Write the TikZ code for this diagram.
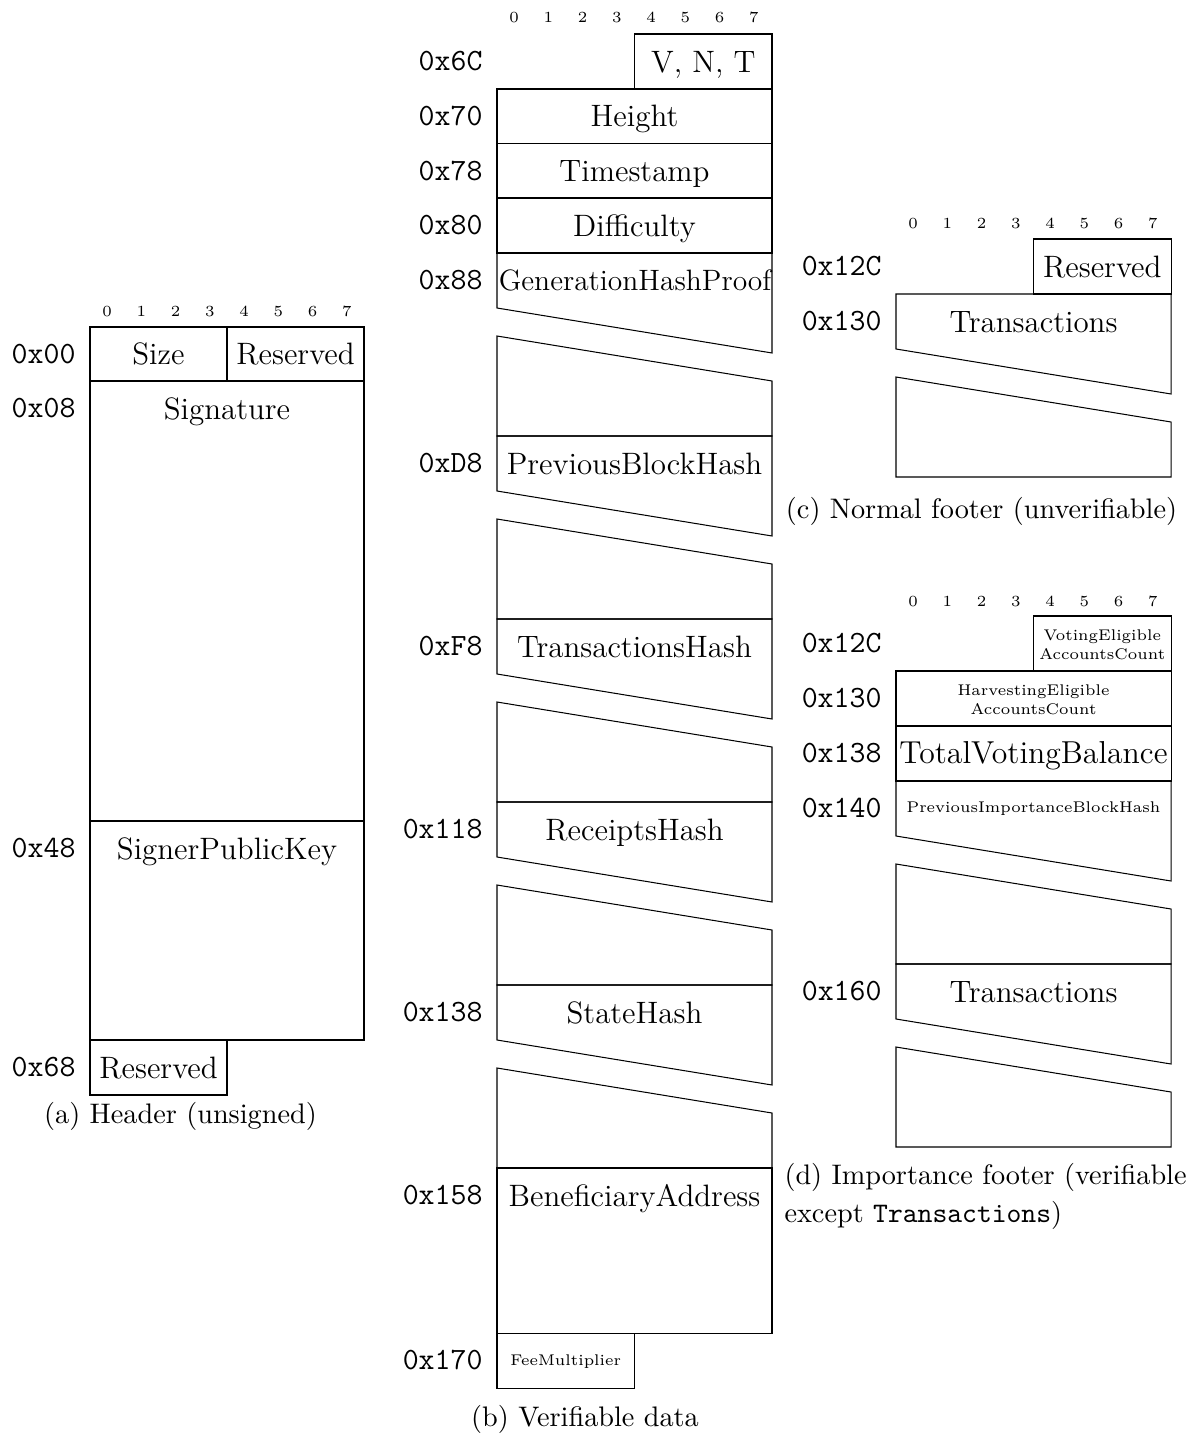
\documentclass[tikz,border=0pt]{standalone}
\usepackage{graphicx}
\begin{document}
\begin{tikzpicture}[x=0.3876pt,y=-0.3876pt,
  fld/.style={draw,line width=0.4pt},
  lbl/.style={inner sep=0pt,anchor=center,text height=8.2pt,text depth=0pt,font=\fontsize{12}{14.5}\selectfont},
  fitlbl/.style={inner sep=0pt,anchor=center,text height=7.9pt,text depth=0pt,font=\fontsize{12}{14.5}\selectfont},
  addr/.style={inner sep=0pt,anchor=east,text height=7.3pt,text depth=0pt,font=\ttfamily\fontsize{12}{14.5}\selectfont},
  bitnum/.style={inner sep=0pt,anchor=base,font=\fontsize{6}{7}\selectfont},
  smalllbl/.style={inner sep=0pt,anchor=center,text height=4.1pt,text depth=0pt,font=\fontsize{6}{7}\selectfont},
  twolbl/.style={inner sep=0pt,anchor=center,align=center,font=\fontsize{6}{7.2}\selectfont},
  capt/.style={inner sep=0pt,anchor=base,font=\fontsize{10.95}{13.6}\selectfont}]
\newcommand\bytenums[3]{%
  \foreach \i in {0,...,7}{\node[bitnum] (#3\i) at ({#1+17.1+34.25*\i},#2) {\i};}}
\newcommand\brokenbox[3]{%
  \draw[fld] (#1,#3) -- (#2,#3) -- (#2,#3+100) -- (#1,#3+55) -- cycle;
  \draw[fld] (#1,#3+83) -- (#2,#3+128) -- (#2,#3+183) -- (#1,#3+183) -- cycle;}
\useasboundingbox (0,0) rectangle (1193,1438);

% ---------------- (a) Header
\bytenums{90}{316}{ba}
\draw[fld] (90,327) rectangle (227,381);
\draw[fld] (227,327) rectangle (364,381);
\draw[fld] (90,381) rectangle (364,821);
\draw[fld] (90,821) rectangle (364,1040);
\draw[fld] (90,1040) rectangle (227,1095);
\node[lbl] (aSize) at (158.5,354) {Size};
\node[lbl] (aRes1) at (295.5,354) {Reserved};
\node[lbl] (aSig) at (227,408.5) {Signature};
\node[lbl] (aSPK) at (227,848.5) {SignerPublicKey};
\node[lbl] (aRes2) at (158.5,1067.5) {Reserved};
\node[addr] (a00) at (76,354) {0x00};
\node[addr] (a08) at (76,408.5) {0x08};
\node[addr] (a48) at (76,848.5) {0x48};
\node[addr] (a68) at (76,1067.5) {0x68};
\node[capt] (capa) at (180.5,1123) {(a) Header (unsigned)};

% ---------------- (b) Verifiable data
\bytenums{497}{23}{bb}
\draw[fld] (634.5,34) rectangle (772,89);
\draw[fld] (497,89) rectangle (772,143.5);
\draw[fld] (497,143.5) rectangle (772,198);
\draw[fld] (497,198) rectangle (772,253);
\brokenbox{497}{772}{253}
\brokenbox{497}{772}{436}
\brokenbox{497}{772}{619}
\brokenbox{497}{772}{802}
\brokenbox{497}{772}{985}
\draw[fld] (497,1168) rectangle (772,1333);
\draw[fld] (497,1333) rectangle (634.5,1388);
\node[lbl] (bVNT) at (703.25,61.5) {V, N, T};
\node[lbl] (bHeight) at (634.5,116) {Height};
\node[lbl] (bTime) at (634.5,171) {Timestamp};
\node[lbl] (bDiff) at (634.5,225.5) {Difficulty};
\node[fitlbl] (bGHP) at (635,280.5) {\resizebox{105.6pt}{!}{GenerationHashProof}};
\node[lbl] (bPBH) at (634.5,463.5) {PreviousBlockHash};
\node[lbl] (bTH) at (634.5,646.5) {TransactionsHash};
\node[lbl] (bRH) at (634.5,829.5) {ReceiptsHash};
\node[lbl] (bSH) at (634.5,1012.5) {StateHash};
\node[lbl] (bBA) at (634.5,1195.5) {BeneficiaryAddress};
\node[smalllbl] (bFM) at (565.75,1360.5) {FeeMultiplier};
\node[addr] (b6C) at (483,61.5) {0x6C};
\node[addr] (b70) at (483,116) {0x70};
\node[addr] (b78) at (483,171) {0x78};
\node[addr] (b80) at (483,225.5) {0x80};
\node[addr] (b88) at (483,280.5) {0x88};
\node[addr] (bD8) at (483,463.5) {0xD8};
\node[addr] (bF8) at (483,646.5) {0xF8};
\node[addr] (b118) at (483,829.5) {0x118};
\node[addr] (b138) at (483,1012.5) {0x138};
\node[addr] (b158) at (483,1195.5) {0x158};
\node[addr] (b170) at (483,1360.5) {0x170};
\node[capt] (capb) at (585,1426) {(b) Verifiable data};

% ---------------- (c) Normal footer
\bytenums{896}{229}{bc}
\draw[fld] (1033.5,239) rectangle (1171,294);
\brokenbox{896}{1171}{294}
\node[lbl] (cRes) at (1102.25,266.5) {Reserved};
\node[lbl] (cTx) at (1033.5,321.5) {Transactions};
\node[addr] (c12C) at (882,266.5) {0x12C};
\node[addr] (c130) at (882,321.5) {0x130};
\node[capt] (capc) at (981.5,518) {(c) Normal footer (unverifiable)};

% ---------------- (d) Importance footer
\bytenums{896}{606}{bd}
\draw[fld] (1033.5,616) rectangle (1171,671);
\draw[fld] (896,671) rectangle (1171,726);
\draw[fld] (896,726) rectangle (1171,781);
\brokenbox{896}{1171}{781}
\brokenbox{896}{1171}{964}
\node[twolbl] (dVE) at (1102.25,644.5) {VotingEligible\\AccountsCount};
\node[twolbl] (dHE) at (1033.5,699.5) {HarvestingEligible\\AccountsCount};
\node[fitlbl] (dTVB) at (1033.5,753.5) {\resizebox{103.9pt}{!}{TotalVotingBalance}};
\node[smalllbl] (dPIBH) at (1033.5,807.5) {PreviousImportanceBlockHash};
\node[lbl] (dTx) at (1033.5,991.5) {Transactions};
\node[addr] (d12C) at (882,643.5) {0x12C};
\node[addr] (d130) at (882,698.5) {0x130};
\node[addr] (d138) at (882,753.5) {0x138};
\node[addr] (d140) at (882,808.5) {0x140};
\node[addr] (d160) at (882,991.5) {0x160};
\node[capt,anchor=base west] (capd1) at (784,1184) {(d) Importance footer (verifiable};
\node[capt,anchor=base west] (capd2) at (784,1222) {except \texttt{Transactions})};
\end{tikzpicture}
\end{document}
